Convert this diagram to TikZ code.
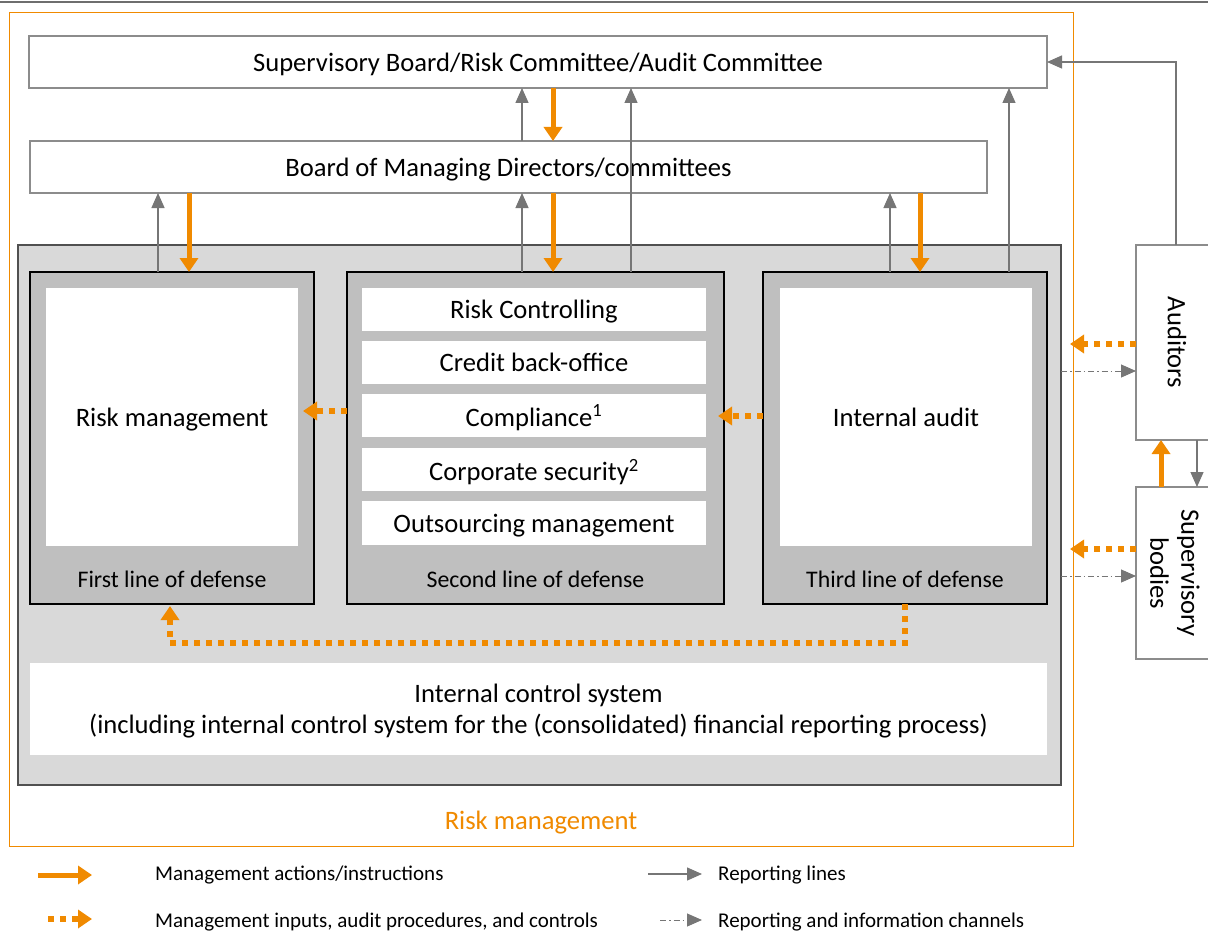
\documentclass[tikz,border=0pt]{standalone}
\usepackage{fontspec}
\setmainfont{Carlito}
\usetikzlibrary{arrows.meta,calc}
\definecolor{org}{HTML}{F08A00}
\definecolor{arr}{HTML}{767676}
\definecolor{bgr}{HTML}{D9D9D9}
\definecolor{lgr}{HTML}{BFBFBF}
\definecolor{bdr}{HTML}{8C8C8C}
\definecolor{dbr}{HTML}{505050}
\definecolor{topl}{HTML}{6E6E6E}
\begin{document}
\begin{tikzpicture}[x=1pt,y=-1pt,
  box/.style={draw=bdr, line width=1.2pt, fill=white, anchor=north west, outer sep=0pt, inner sep=0pt, font=\fontsize{26.6}{31}\selectfont, align=center, text depth=0pt},
  linebox/.style={draw=black, line width=1.2pt, fill=lgr, anchor=north west, outer sep=0pt, inner sep=0pt, minimum width=284pt, minimum height=332pt},
  inbox/.style={fill=white, anchor=north west, outer sep=0pt, inner sep=0pt, font=\fontsize{26.6}{31}\selectfont, align=center, text depth=0pt},
  lab/.style={font=\fontsize{23.8}{28}\selectfont, inner sep=0pt, text depth=0pt},
  leg/.style={font=\fontsize{21}{25}\selectfont, anchor=west, inner sep=0pt, text depth=0pt},
  rep/.style={draw=arr, line width=1.3pt, -{Triangle[width=13pt,length=15pt]}},
  mgmt/.style={draw=org, line width=5pt, -{Triangle[width=18pt,length=14pt]}},
  inp/.style={draw=org, line width=6pt, dash pattern=on 6pt off 6pt, -{Triangle[width=18pt,length=14pt]}},
  info/.style={draw=arr, line width=1pt, dash pattern=on 6pt off 3pt on 1.5pt off 3pt, -{Triangle[width=13pt,length=15pt]}}
]
\useasboundingbox (0,0) rectangle (1208,931);
\fill[white] (0,0) rectangle (1208,931);
\draw[topl, line width=2pt] (0,2) -- (1208,2);

% outer risk management frame
\node[draw=org, line width=1pt, anchor=north west, minimum width=1064pt, minimum height=833pt, outer sep=0pt, inner sep=0pt] (rm) at (9,13) {};
\node[font=\fontsize{26.6}{31}\selectfont, text=org, inner sep=0pt, text depth=0pt] (rmlab) at ([yshift=26pt]rm.south) {Risk management};

% boards
\node[box, minimum width=1018pt, minimum height=52pt] (sb) at (29,36) {Supervisory Board/Risk Committee/Audit Committee};
\node[box, minimum width=957pt, minimum height=52pt] (bomd) at (30,141) {Board of Managing Directors/committees};

% gray area
\node[draw=dbr, line width=1.3pt, fill=bgr, anchor=north west, minimum width=1043pt, minimum height=540pt, outer sep=0pt, inner sep=0pt] (ga) at (18,245) {};

% first line
\node[linebox] (l1) at (30,272) {};
\node[inbox, minimum width=252pt, minimum height=258pt] (l1in) at (46,288) {Risk management};
\node[lab] (l1lab) at ([yshift=25pt]l1.south) {First line of defense};

% second line
\node[linebox, minimum width=377pt] (l2) at (347,272) {};
\node[inbox, minimum width=344pt, minimum height=43pt] (rc) at (362,288) {Risk Controlling};
\node[inbox, minimum width=344pt, minimum height=43pt] (cb) at (362,341) {Credit back-office};
\node[inbox, minimum width=344pt, minimum height=43pt] (co) at (362,394) {Compliance\textsuperscript{1}};
\node[inbox, minimum width=344pt, minimum height=43pt] (cs) at (362,448) {Corporate security\textsuperscript{2}};
\node[inbox, minimum width=344pt, minimum height=44pt] (om) at (362,501) {Outsourcing management};
\node[lab] (l2lab) at ([yshift=25pt]l2.south) {Second line of defense};

% third line
\node[linebox] (l3) at (763,272) {};
\node[inbox, minimum width=252pt, minimum height=258pt] (l3in) at (780,288) {Internal audit};
\node[lab] (l3lab) at ([yshift=25pt]l3.south) {Third line of defense};

% internal control system
\node[inbox, minimum width=1017pt, minimum height=92pt] (ics) at (30,663) {Internal control system\\(including internal control system for the (consolidated) financial reporting process)};

% auditors and supervisory bodies
\node[box, minimum width=82pt, minimum height=195pt] (aud) at (1136,245) {};
\node[rotate=-90, font=\fontsize{26.6}{31}\selectfont, inner sep=0pt] (audt) at (aud.center) {Auditors};
\node[box, minimum width=82pt, minimum height=172pt] (sup) at (1136,487) {};
\node[rotate=-90, font=\fontsize{26.6}{31}\selectfont, inner sep=0pt, align=center] (supt) at ([xshift=-2pt]sup.center) {Supervisory\\bodies};

% column coordinates
\coordinate (cA) at (158,0);
\coordinate (cB) at (189,0);
\coordinate (cC) at (522,0);
\coordinate (cD) at (553,0);
\coordinate (cE) at (631,0);
\coordinate (cF) at (890,0);
\coordinate (cG) at (920,0);
\coordinate (cH) at (1009,0);
\coordinate (cI) at (905,0);
\coordinate (cK) at (170,643);
\coordinate (cL) at (1176,0);
\coordinate (cM) at (1197,0);
\coordinate (cN) at (1161,0);
\coordinate (yA) at (0,411);
\coordinate (yB) at (0,416);
\coordinate (yC) at (0,344);
\coordinate (yD) at (0,371);
\coordinate (yE) at (0,549);
\coordinate (yF) at (0,576);

% board arrows
\draw[rep] (bomd.north -| cC) -- (sb.south -| cC);
\draw[mgmt] (sb.south -| cD) -- (bomd.north -| cD);
\draw[rep] (l2.north -| cE) -- (sb.south -| cE);
\draw[rep] (l3.north -| cH) -- (sb.south -| cH);
\draw[rep] (l1.north -| cA) -- (bomd.south -| cA);
\draw[mgmt] (bomd.south -| cB) -- (l1.north -| cB);
\draw[rep] (l2.north -| cC) -- (bomd.south -| cC);
\draw[mgmt] (bomd.south -| cD) -- (l2.north -| cD);
\draw[rep] (l3.north -| cF) -- (bomd.south -| cF);
\draw[mgmt] (bomd.south -| cG) -- (l3.north -| cG);

% inputs between lines
\draw[inp] (l2.west |- yA) -- ([xshift=5pt]l1in.east |- yA);
\draw[inp] (l3.west |- yB) -- ([xshift=-6pt]l2.east |- yB);
\draw[inp] (l3.south -| cI) |- (cK) -- ([yshift=-2pt]l1.south -| cK);

% auditors / supervisory
\draw[rep] (aud.north -| cL) |- (sb.east);
\draw[rep] (aud.south -| cM) -- (sup.north -| cM);
\draw[mgmt] (sup.north -| cN) -- (aud.south -| cN);
\draw[inp] (aud.west |- yC) -- ([xshift=-3pt]rm.east |- yC);
\draw[info] (ga.east |- yD) -- (aud.west |- yD);
\draw[inp] (sup.west |- yE) -- ([xshift=-3pt]rm.east |- yE);
\draw[info] (ga.east |- yF) -- (sup.west |- yF);

% legend
\node[leg] (lg1) at (155,873) {Management actions/instructions};
\node[leg] (lg2) at (155,920) {Management inputs, audit procedures, and controls};
\node[leg] (lg3) at (718,873) {Reporting lines};
\node[leg] (lg4) at (718,920) {Reporting and information channels};
\coordinate (la1) at (38,875);
\coordinate (lb1) at (92,875);
\coordinate (la2) at (48,919);
\coordinate (lb2) at (92,919);
\coordinate (la3) at (648,874);
\coordinate (lb3) at (702,874);
\coordinate (la4) at (660,920);
\coordinate (lb4) at (702,920);
\draw[mgmt] (la1) -- (lb1);
\draw[inp] (la2) -- (lb2);
\draw[rep] (la3) -- (lb3);
\draw[info] (la4) -- (lb4);
\end{tikzpicture}
\end{document}
